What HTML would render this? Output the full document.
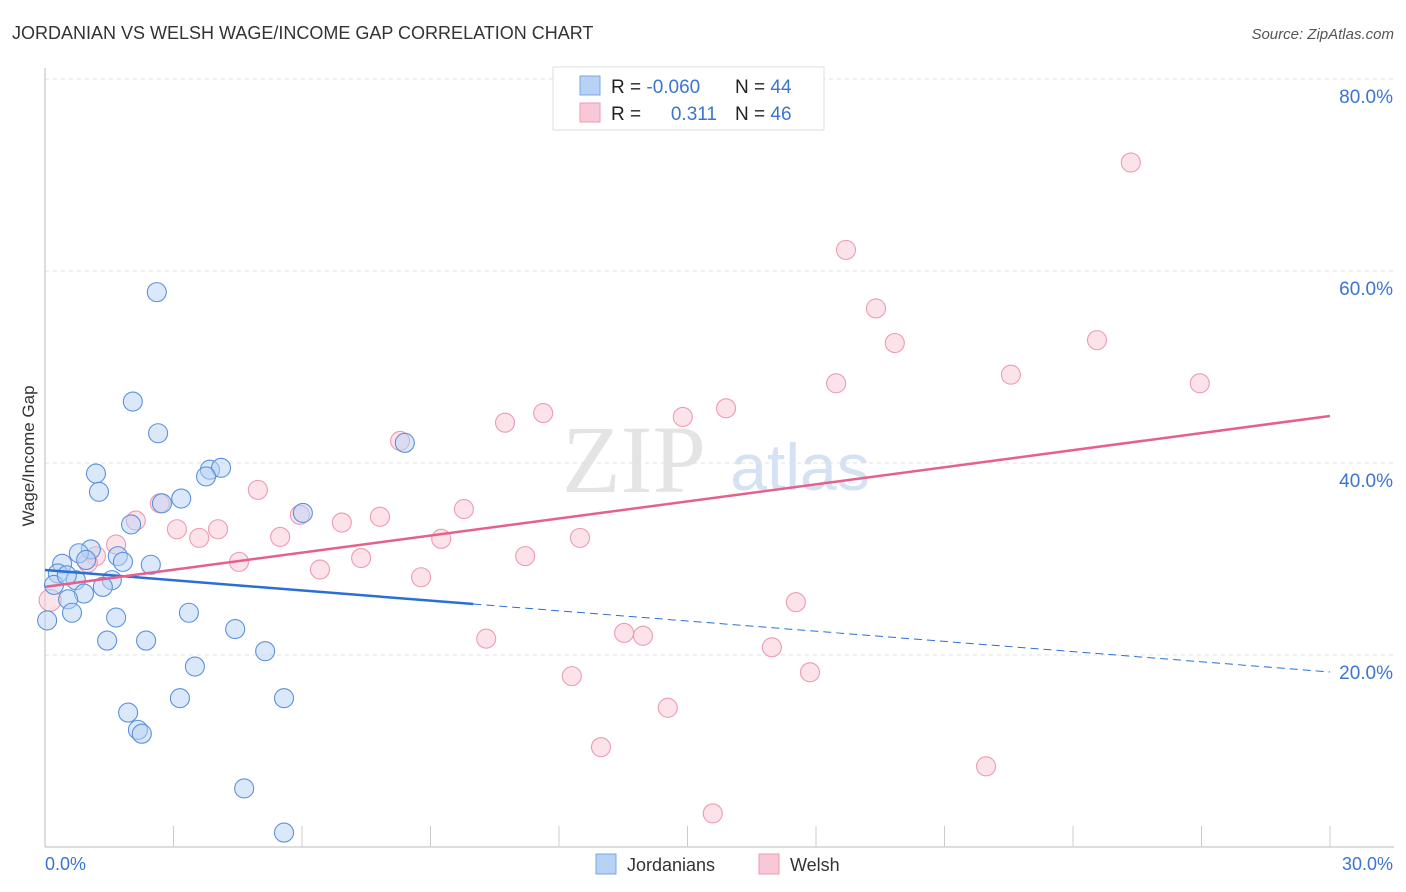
<!DOCTYPE html>
<html><head><meta charset="utf-8"><style>
body{margin:0;background:#fff;font-family:"Liberation Sans",sans-serif}
svg{display:block}
</style></head><body>
<svg id="c" width="1406" height="892">
<text x="12" y="39" font-size="18" fill="#333">JORDANIAN VS WELSH WAGE/INCOME GAP CORRELATION CHART</text>
<text x="1394" y="39" font-size="15" fill="#555" font-style="italic" text-anchor="end">Source: ZipAtlas.com</text>
<text x="634" y="492" font-size="96" fill="#e4e4e4" font-family="Liberation Serif,serif" text-anchor="middle">ZIP</text>
<text x="800" y="490" font-size="66" fill="#d5e2f3" text-anchor="middle">atlas</text>
<g id="grid"></g><g id="axes"></g><g id="marks"></g>
<text x="34" y="456" font-size="17" fill="#333" text-anchor="middle" transform="rotate(-90 34 456)">Wage/Income Gap</text>
<g>
<rect x="553" y="67" width="271" height="63" fill="#fff" stroke="#ddd"/>
<rect x="580" y="76" width="20" height="19" fill="#b7d2f5" stroke="#7aa7e6"/>
<rect x="580" y="103" width="20" height="19" fill="#f9c8d6" stroke="#ee9ab3"/>
<text x="611" y="93" font-size="19" fill="#222">R = <tspan fill="#3a75d0">-0.060</tspan></text>
<text x="735" y="93" font-size="19" fill="#222">N = <tspan fill="#3a75d0">44</tspan></text>
<text x="611" y="120" font-size="19" fill="#222">R = </text>
<text x="717" y="120" font-size="19" fill="#3a75d0" text-anchor="end">0.311</text>
<text x="735" y="120" font-size="19" fill="#222">N = <tspan fill="#3a75d0">46</tspan></text>
</g>
<g>
<rect x="596" y="854" width="20" height="20" fill="#b7d2f5" stroke="#7aa7e6"/>
<text x="627" y="871" font-size="18" fill="#333">Jordanians</text>
<rect x="759" y="854" width="20" height="20" fill="#f9c8d6" stroke="#ee9ab3"/>
<text x="790" y="871" font-size="18" fill="#333">Welsh</text>
</g>
</svg>
<script>
const blueX=[2.61,2.05,2.64,1.19,1.26,3.18,3.85,4.11,3.76,2.01,2.73,6.02,8.40,1.07,0.79,1.70,1.82,2.47,0.40,0.30,0.21,0.72,1.56,1.35,0.91,0.54,0.63,1.66,3.36,1.45,2.36,4.44,5.14,3.50,3.15,5.58,1.94,2.17,2.26,4.65,5.58,0.05,0.96,0.51];
const blueY=[57.8,46.4,43.1,38.9,37.0,36.3,39.3,39.5,38.6,33.6,35.8,34.8,42.1,31.0,30.6,30.3,29.7,29.4,29.5,28.5,27.3,27.8,27.8,27.1,26.4,25.8,24.4,23.9,24.4,21.5,21.5,22.7,20.4,18.8,15.5,15.5,14.0,12.2,11.8,6.1,1.5,23.6,29.9,28.3];
const pinkX=[25.35,18.70,19.40,19.84,24.56,18.47,22.55,26.96,15.90,14.89,11.63,10.74,8.29,4.97,9.78,7.82,6.93,5.95,2.68,2.12,3.08,4.04,3.60,5.49,9.25,12.49,1.66,1.19,1.00,7.38,11.21,4.53,6.42,8.78,17.53,10.30,13.52,13.96,16.97,17.86,12.30,14.54,12.98,21.97,15.59,0.12];
const pinkY=[71.3,62.2,56.1,52.5,52.8,48.3,49.2,48.3,45.7,44.8,45.2,44.2,42.3,37.2,35.2,34.4,33.8,34.6,35.8,34.0,33.1,33.1,32.2,32.3,32.1,32.2,31.5,30.3,29.6,30.1,30.3,29.7,28.9,28.1,25.5,21.7,22.3,22.0,20.8,18.2,17.8,14.5,10.4,8.4,3.5,25.7];
const yTicks=[20,40,60,80];
const yTickLabels=["20.0%","40.0%","60.0%","80.0%"];
const xTickVals=[3,6,9,12,15,18,21,24,27,30];
const blueTrend=[28.85,18.23];
const pinkTrend=[27.1,44.9];
const blueSolidEnd=10;
const NS="http://www.w3.org/2000/svg";
const X=v=>45+v/30*1285, Y=v=>847-v/20*192;
function mk(t,a,p){const e=document.createElementNS(NS,t);for(const k in a)e.setAttribute(k,a[k]);p.appendChild(e);return e;}
const grid=document.getElementById('grid'),axes=document.getElementById('axes'),marks=document.getElementById('marks');
yTicks.forEach((t,i)=>{
 const l=mk('line',{x1:45,x2:1394,y1:Y(t),y2:Y(t),stroke:'#e2e2e2','stroke-dasharray':'4 4'},grid);
 
 
 const tx=mk('text',{x:1393,y:Y(t)+24,'font-size':19,fill:'#3a75d0','text-anchor':'end'},axes);
 tx.textContent=yTickLabels[i];
 
 
});
const ax=mk('line',{x1:45,x2:45,y1:68,y2:847,stroke:'#bbb'},axes);


const bx=mk('line',{x1:45,x2:1394,y1:847,y2:847,stroke:'#bbb'},axes);


xTickVals.forEach(v=>{
 const t=mk('line',{x1:X(v),x2:X(v),y1:826,y2:847,stroke:'#ccc'},axes);
 
 
});
const x0=mk('text',{x:45,y:870,'font-size':18,fill:'#3a75d0'},axes);x0.textContent='0.0%';


const x1=mk('text',{x:1393,y:870,'font-size':18,fill:'#3a75d0','text-anchor':'end'},axes);x1.textContent='30.0%';


function pts(xs,ys,f,s,name){xs.forEach((x,i)=>{
 const r=(i===xs.length-1&&name==='welsh-point')?11:9.5;
 const c=mk('circle',{cx:X(x),cy:Y(ys[i]),r:r,fill:f,'fill-opacity':0.5,stroke:s,'stroke-width':1.1},marks);
 
 
});}
pts(pinkX,pinkY,'#f9c8d6','#ee9ab3','welsh-point');
pts(blueX,blueY,'#b7d2f5','#5b92dd','jordanian-point');
const bAt=x=>blueTrend[0]+(blueTrend[1]-blueTrend[0])*x/30;
const b1=mk('line',{x1:X(0),y1:Y(bAt(0)),x2:X(blueSolidEnd),y2:Y(bAt(blueSolidEnd)),stroke:'#2a6fd6','stroke-width':2.5},marks);


const b2=mk('line',{x1:X(blueSolidEnd),y1:Y(bAt(blueSolidEnd)),x2:X(30),y2:Y(bAt(30)),stroke:'#2a6fd6','stroke-width':1,'stroke-dasharray':'8 5'},marks);


const p1=mk('line',{x1:X(0),y1:Y(pinkTrend[0]),x2:X(30),y2:Y(pinkTrend[1]),stroke:'#e5608a','stroke-width':2.5},marks);


</script>
</body></html>
